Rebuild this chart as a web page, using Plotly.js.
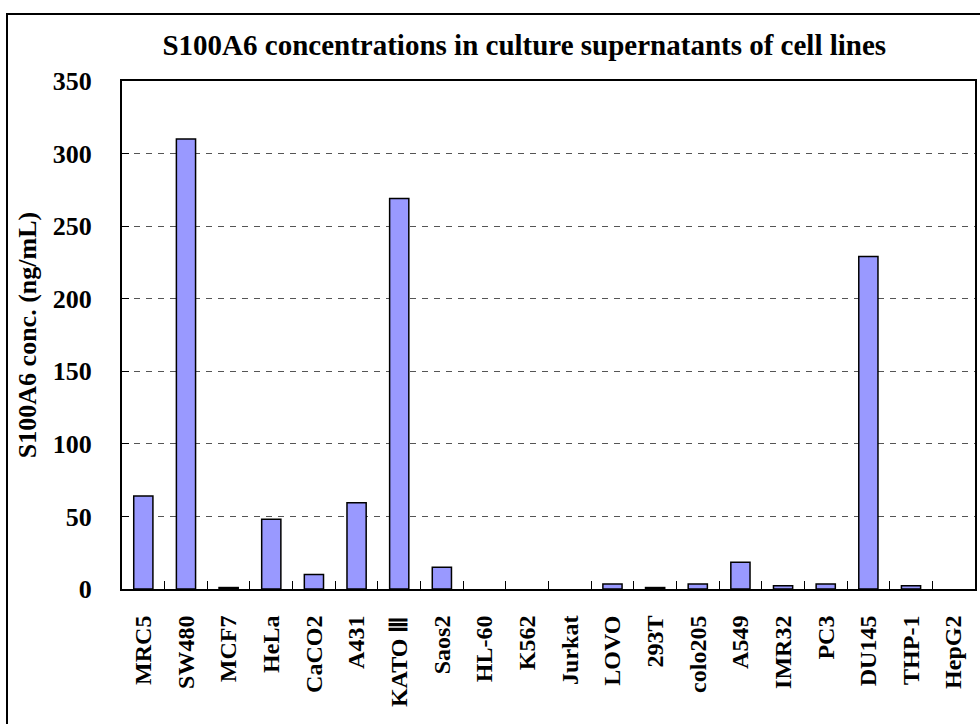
<!DOCTYPE html>
<html>
<head>
<meta charset="utf-8">
<script src="https://cdn.plot.ly/plotly-3.0.1.min.js"></script>
<style>
html,body{margin:0;padding:0;background:#fff;}
</style>
</head>
<body>
<div id="chart" style="width:980px;height:724px;"></div>
<script>
const cellLines = ["MRC5","SW480","MCF7","HeLa","CaCO2","A431","KATO Ⅲ","Saos2","HL-60","K562","Jurkat","LOVO","293T","colo205","A549","IMR32","PC3","DU145","THP-1","HepG2"];
const concentrations = [64, 310, 1, 48, 10, 59.5, 269, 15, 0, 0, 0, 3.4, 1, 3.4, 18.4, 2.3, 3.4, 229, 2.3, 0];
const yTicks = [0, 50, 100, 150, 200, 250, 300, 350];

const serif = "Liberation Serif, Times New Roman, serif";

const trace = {
  type: "bar",
  x: cellLines,
  y: concentrations,
  marker: {
    color: "#9999FF",
    line: {color: "#000000", width: concentrations.map(v => v > 0 ? 1.5 : 0)}
  },
  hoverinfo: "x+y"
};

const L = 122, R = 5, T = 81, B = 135, W = 980, H = 724;
const pw = W - L - R, ph = H - T - B;

const layout = {
  width: W, height: H,
  margin: {l: L, r: R, t: T, b: B, pad: 0},
  paper_bgcolor: "#ffffff",
  plot_bgcolor: "#ffffff",
  showlegend: false,
  bargap: 0.55,
  title: {
    text: "S100A6 concentrations in culture supernatants of cell lines",
    font: {family: serif, size: 29, color: "#000", weight: "bold"},
    x: 0.535, xanchor: "center", y: 0.938, yanchor: "middle"
  },
  xaxis: {
    type: "category",
    tickangle: -90,
    tickfont: {family: serif, size: 24, color: "#000", weight: "bold"},
    ticks: "inside", tickson: "boundaries", ticklen: 8, tickcolor: "#000", tickwidth: 1,
    showline: true, linecolor: "#000", linewidth: 2, mirror: true,
    showgrid: false, zeroline: false, fixedrange: true,
    ticklabelstandoff: 15
  },
  yaxis: {
    range: [0, 350],
    tickvals: yTicks,
    ticktext: yTicks.map(String),
    tickfont: {family: serif, size: 26, color: "#000", weight: "bold"},
    ticks: "inside", ticklen: 7, tickcolor: "#000", tickwidth: 1,
    showline: true, linecolor: "#000", linewidth: 2, mirror: true,
    showgrid: true, gridcolor: "#555", griddash: "6px,6px", gridwidth: 1,
    zeroline: false, fixedrange: true,
    ticklabelstandoff: 23,
    title: {
      text: "S100A6 conc. (ng/mL)",
      font: {family: serif, size: 26, color: "#000", weight: "bold"},
      standoff: 9
    }
  },
  shapes: [{
    type: "rect", xref: "paper", yref: "paper",
    x0: (7 - L) / pw, x1: (W + 10 - L) / pw,
    y0: -(H + 10 - T - ph) / ph, y1: (H - 14 - B) / ph,
    line: {color: "#000", width: 2}, fillcolor: "rgba(0,0,0,0)", layer: "below"
  }]
};

Plotly.newPlot("chart", [trace], layout, {displayModeBar: false, staticPlot: true});
</script>
</body>
</html>
